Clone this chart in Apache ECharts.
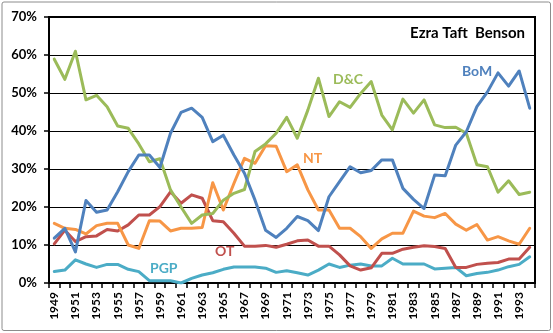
<!DOCTYPE html>
<html>
<head>
<meta charset="utf-8">
<script src="https://cdn.jsdelivr.net/npm/echarts@6/dist/echarts.min.js"></script>
<style>
  html, body { margin: 0; padding: 0; background: #fff; }
  #chart { width: 553px; height: 333px; }
</style>
</head>
<body>
<div id="chart"></div>
<script>
// Share of scripture references by volume, per year (percent)
const years = [];
for (let y = 1949; y <= 1994; y++) years.push(String(y));

const bom = [11.8, 14.4, 8.2, 21.7, 18.6, 19.2, 24.0, 29.3, 33.7, 33.7,
  30.4, 39.4, 44.9, 46.0, 43.6, 37.2, 38.9, 33.7, 28.9, 21.8,
  13.9, 12.0, 14.4, 17.5, 16.4, 13.8, 22.7, 26.7, 30.6, 29.0,
  29.6, 32.4, 32.4, 24.9, 22.0, 19.6, 28.4, 28.2, 36.3, 39.8,
  46.4, 50.3, 55.3, 51.8, 55.8, 46.0];
const dc = [58.9, 53.6, 61.0, 48.2, 49.4, 46.4, 41.3, 40.7, 36.6, 31.9,
  32.7, 24.5, 20.0, 15.7, 17.9, 18.3, 21.8, 23.6, 24.6, 34.6,
  36.6, 39.4, 43.6, 38.1, 45.5, 53.9, 43.8, 47.7, 46.2, 49.9,
  53.0, 44.2, 40.3, 48.4, 44.7, 48.2, 41.6, 40.9, 41.0, 39.4,
  31.1, 30.6, 23.9, 26.9, 23.3, 23.9];
const nt = [15.7, 14.4, 14.1, 12.9, 15.1, 15.7, 15.7, 10.0, 9.1, 16.4,
  16.3, 13.7, 14.4, 14.4, 14.6, 26.4, 19.2, 26.2, 32.8, 31.5,
  36.1, 36.0, 29.3, 31.1, 24.5, 19.2, 19.2, 14.4, 14.4, 12.2,
  9.1, 11.6, 13.1, 13.1, 18.9, 17.6, 17.2, 18.3, 15.5, 13.9,
  15.4, 11.3, 12.2, 11.1, 10.2, 14.4];
const ot = [10.3, 13.9, 10.9, 12.2, 12.4, 14.1, 13.7, 15.3, 17.9, 17.9,
  20.1, 24.0, 21.0, 23.2, 22.3, 16.4, 16.1, 13.1, 9.7, 9.7,
  9.9, 9.4, 10.2, 11.1, 11.3, 9.7, 9.7, 7.4, 4.5, 3.4,
  4.0, 7.8, 7.8, 8.9, 9.4, 9.8, 9.6, 9.1, 4.1, 4.1,
  4.9, 5.2, 5.4, 6.3, 6.3, 9.4];
const pgp = [3.0, 3.4, 6.1, 5.0, 4.1, 4.9, 4.9, 3.6, 3.0, 0.6,
  0.6, 0.6, 0.0, 1.2, 2.1, 2.7, 3.6, 4.2, 4.2, 4.2,
  3.9, 2.8, 3.2, 2.7, 2.1, 3.4, 5.0, 4.1, 4.7, 5.0,
  4.5, 4.5, 6.5, 5.0, 5.0, 5.0, 3.7, 3.9, 4.1, 1.9,
  2.5, 2.8, 3.4, 4.3, 4.9, 6.9];

const seriesNames = ['BoM', 'D&C', 'NT', 'OT', 'PGP'];
const seriesData = [bom, dc, nt, ot, pgp];
const colors = ['#4F81BD', '#9BBB59', '#F79646', '#C0504D', '#4BACC6'];
// draw order so the earlier volumes sit on top, as in the spreadsheet
const drawOrder = [4, 3, 2, 1, 0];

const FONT = 'Lato, "Open Sans", sans-serif';

const chart = echarts.init(document.getElementById('chart'), null, { renderer: 'canvas' });

const option = {
  animation: false,
  backgroundColor: '#fff',
  grid: {
    left: 49, right: 18, top: 17, bottom: 50,
    show: true, borderColor: '#000', borderWidth: 2, backgroundColor: 'transparent'
  },
  xAxis: {
    type: 'category',
    data: years,
    boundaryGap: true,
    axisLine: { lineStyle: { color: '#000', width: 2 } },
    axisTick: { show: true, length: 5, lineStyle: { color: '#000', width: 1.5 }, interval: 0 },
    axisLabel: {
      interval: 1, rotate: 90, margin: 9,
      color: '#000', fontWeight: 'bold', fontSize: 12, fontFamily: FONT
    },
    splitLine: { show: false }
  },
  yAxis: {
    type: 'value',
    min: 0, max: 70, interval: 10,
    axisLine: { show: true, lineStyle: { color: '#000', width: 2 } },
    axisTick: { show: true, length: 5, lineStyle: { color: '#000', width: 1.5 } },
    axisLabel: {
      formatter: '{value}%', margin: 12,
      color: '#000', fontWeight: 'bold', fontSize: 13, fontFamily: FONT
    },
    splitLine: { lineStyle: { color: '#000', width: 1 } }
  },
  series: drawOrder.map(i => ({
    name: seriesNames[i],
    type: 'line',
    data: seriesData[i],
    symbol: 'none',
    smooth: false,
    lineStyle: { color: colors[i], width: 3, cap: 'round', join: 'round' },
    itemStyle: { color: colors[i] },
    z: 3
  })),
  graphic: [
    {
      type: 'rect', silent: true, z: -1,
      shape: { x: 2, y: 2, width: 548.5, height: 328.5, r: 2 },
      style: { fill: 'transparent', stroke: '#8c8c8c', lineWidth: 1 }
    },
    {
      type: 'text', right: 28, top: 26,
      style: { text: 'Ezra Taft  Benson', fill: '#000', font: 'bold 15px ' + FONT }
    },
    { type: 'text', left: 333, top: 72, style: { text: 'D&C', fill: colors[1], font: 'bold 14px ' + FONT } },
    { type: 'text', left: 462, top: 64, style: { text: 'BoM', fill: colors[0], font: 'bold 14px ' + FONT } },
    { type: 'text', left: 303, top: 151, style: { text: 'NT', fill: colors[2], font: 'bold 14px ' + FONT } },
    { type: 'text', left: 215, top: 244, style: { text: 'OT', fill: colors[3], font: 'bold 14px ' + FONT } },
    { type: 'text', left: 150, top: 261, style: { text: 'PGP', fill: colors[4], font: 'bold 14px ' + FONT } }
  ]
};

chart.setOption(option);
</script>
</body>
</html>
